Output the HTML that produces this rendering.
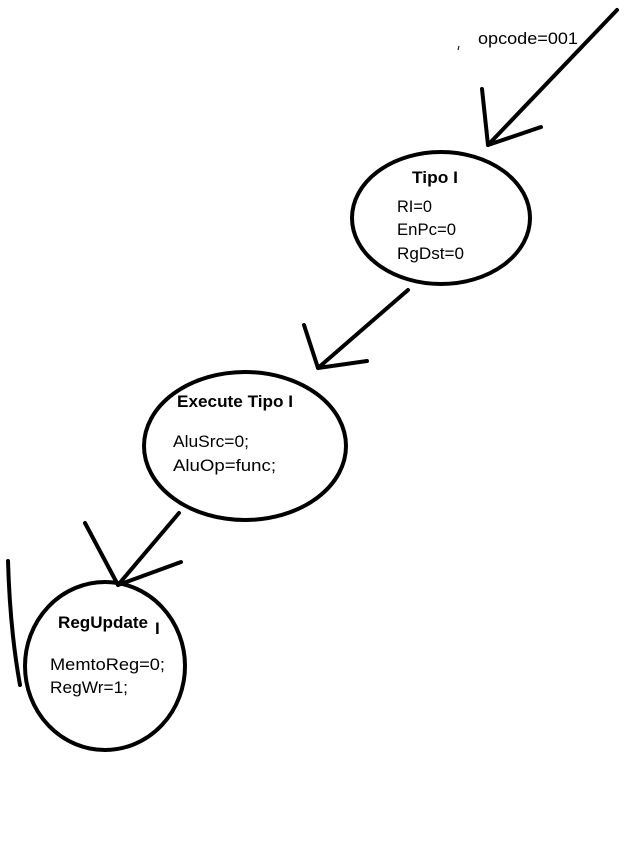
<!DOCTYPE html>
<html><head><meta charset="utf-8"><style>
html,body{margin:0;padding:0;background:#fff;}
svg{display:block}
text{font-family:"Liberation Sans",sans-serif;font-size:17px;fill:#000}
.b{font-weight:bold}
</style></head><body>
<svg width="631" height="856" viewBox="0 0 631 856" xmlns="http://www.w3.org/2000/svg">
<g fill="none" stroke="#000" stroke-width="4" stroke-linecap="round" stroke-linejoin="round">
<ellipse cx="441" cy="218" rx="89" ry="66"/>
<ellipse cx="245" cy="446" rx="101" ry="74"/>
<ellipse cx="105" cy="666" rx="80" ry="84"/>
<line x1="617" y1="10" x2="488" y2="145"/>
<polyline points="482,89 488,145 541,127"/>
<line x1="408" y1="290" x2="318" y2="368"/>
<polyline points="304,325 318,368 367,361"/>
<line x1="179" y1="513" x2="118" y2="585"/>
<polyline points="85,523 118,585 181,562"/>
<path d="M8,561 Q10,630 20,685"/>
</g>
<line x1="459" y1="46" x2="458" y2="50" stroke="#000" stroke-width="1"/>
<text x="478" y="44" textLength="100" lengthAdjust="spacingAndGlyphs">opcode=001</text>
<text x="412" y="183" class="b" textLength="46" lengthAdjust="spacingAndGlyphs">Tipo I</text>
<text x="397" y="212" textLength="35" lengthAdjust="spacingAndGlyphs">RI=0</text>
<text x="397" y="235" textLength="59" lengthAdjust="spacingAndGlyphs">EnPc=0</text>
<text x="397" y="259" textLength="67" lengthAdjust="spacingAndGlyphs">RgDst=0</text>
<text x="177" y="407" class="b" textLength="116" lengthAdjust="spacingAndGlyphs">Execute Tipo I</text>
<text x="173" y="447" textLength="76" lengthAdjust="spacingAndGlyphs">AluSrc=0;</text>
<text x="173" y="471" textLength="103" lengthAdjust="spacingAndGlyphs">AluOp=func;</text>
<text x="58" y="628" class="b" textLength="90" lengthAdjust="spacingAndGlyphs">RegUpdate</text>
<text x="155" y="634" class="b">I</text>
<text x="50" y="670" textLength="115" lengthAdjust="spacingAndGlyphs">MemtoReg=0;</text>
<text x="50" y="693" textLength="78" lengthAdjust="spacingAndGlyphs">RegWr=1;</text>
</svg>
</body></html>
